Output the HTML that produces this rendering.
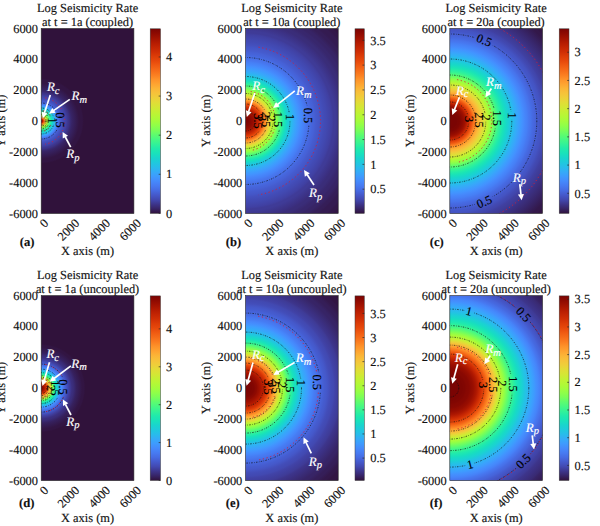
<!DOCTYPE html><html><head><meta charset="utf-8"><style>
html,body{margin:0;padding:0;background:#fff;width:600px;height:526px;overflow:hidden}
svg{display:block}
text{font-family:"Liberation Serif",serif;fill:#111;stroke:#111;stroke-width:0.15px;text-rendering:geometricPrecision}
.tt{font-size:12.4px}
.tk{font-size:12.4px}
.lb{font-size:12.4px}
.pl{font-size:12.6px;font-weight:bold}
.ct{stroke:#111;stroke-width:0.75;stroke-dasharray:1.4 1.4 0.6 1.4}
.cl{font-size:12.3px;fill:#000;stroke:#000}
.rl{font-size:13px;font-style:italic;fill:#fff;stroke:#fff}
.rs{font-size:10.5px}
.ar{stroke:#fff;stroke-width:1.7}
.cr{stroke:#d81e34;stroke-width:0.95;stroke-dasharray:1.2 2.6}
</style></head><body>
<svg width="600" height="526" viewBox="0 0 600 526">
<rect width="600" height="526" fill="#fff"/>
<g transform="translate(0.00,0.00)">
<text x="87.55" y="11.8" class="tt" text-anchor="middle">Log Seismicity Rate</text>
<text x="87.55" y="26.2" class="tt" text-anchor="middle">at t = 1a (coupled)</text>
<defs><radialGradient id="rga" gradientUnits="userSpaceOnUse" cx="41.20" cy="121.00" r="140.00"><stop offset="0.0000" stop-color="#7a0403"/><stop offset="0.0029" stop-color="#810602"/><stop offset="0.0071" stop-color="#980e01"/><stop offset="0.0120" stop-color="#b71d02"/><stop offset="0.0175" stop-color="#e7490c"/><stop offset="0.0233" stop-color="#fd8a26"/><stop offset="0.0296" stop-color="#f9bc39"/><stop offset="0.0362" stop-color="#dde037"/><stop offset="0.0430" stop-color="#affa37"/><stop offset="0.0501" stop-color="#84ff51"/><stop offset="0.0575" stop-color="#55fa76"/><stop offset="0.0651" stop-color="#32f298"/><stop offset="0.0728" stop-color="#1ce6b4"/><stop offset="0.0808" stop-color="#18d7ca"/><stop offset="0.0890" stop-color="#22c5e2"/><stop offset="0.0974" stop-color="#2fb2f4"/><stop offset="0.1059" stop-color="#3e9bfe"/><stop offset="0.1146" stop-color="#4685fa"/><stop offset="0.1234" stop-color="#4771e9"/><stop offset="0.1324" stop-color="#4661d6"/><stop offset="0.1415" stop-color="#4559cb"/><stop offset="0.1508" stop-color="#4451bf"/><stop offset="0.1602" stop-color="#424bb5"/><stop offset="0.1697" stop-color="#4146ac"/><stop offset="0.1794" stop-color="#4040a2"/><stop offset="0.1892" stop-color="#3e3891"/><stop offset="0.1990" stop-color="#3c3286"/><stop offset="0.2091" stop-color="#392a73"/><stop offset="0.2192" stop-color="#372466"/><stop offset="0.2294" stop-color="#36215f"/><stop offset="0.2397" stop-color="#351e58"/><stop offset="0.2502" stop-color="#341b51"/><stop offset="0.2607" stop-color="#33184a"/><stop offset="0.2714" stop-color="#321543"/><stop offset="0.2821" stop-color="#321543"/><stop offset="0.2929" stop-color="#321543"/><stop offset="0.3039" stop-color="#30123b"/><stop offset="0.3149" stop-color="#30123b"/><stop offset="0.3260" stop-color="#30123b"/><stop offset="0.3372" stop-color="#30123b"/><stop offset="0.3485" stop-color="#30123b"/><stop offset="0.3598" stop-color="#30123b"/><stop offset="0.3713" stop-color="#30123b"/><stop offset="0.3828" stop-color="#30123b"/><stop offset="0.3944" stop-color="#30123b"/><stop offset="0.4061" stop-color="#30123b"/><stop offset="0.4179" stop-color="#30123b"/><stop offset="0.4297" stop-color="#30123b"/><stop offset="0.4417" stop-color="#30123b"/><stop offset="0.4537" stop-color="#30123b"/><stop offset="0.4657" stop-color="#30123b"/><stop offset="0.4779" stop-color="#30123b"/><stop offset="0.4901" stop-color="#30123b"/><stop offset="0.5024" stop-color="#30123b"/><stop offset="0.5148" stop-color="#30123b"/><stop offset="0.5272" stop-color="#30123b"/><stop offset="0.5397" stop-color="#30123b"/><stop offset="0.5522" stop-color="#30123b"/><stop offset="0.5649" stop-color="#30123b"/><stop offset="0.5776" stop-color="#30123b"/><stop offset="0.5903" stop-color="#30123b"/><stop offset="0.6031" stop-color="#30123b"/><stop offset="0.6160" stop-color="#30123b"/><stop offset="0.6290" stop-color="#30123b"/><stop offset="0.6420" stop-color="#30123b"/><stop offset="0.6550" stop-color="#30123b"/><stop offset="0.6682" stop-color="#30123b"/><stop offset="0.6814" stop-color="#30123b"/><stop offset="0.6946" stop-color="#30123b"/><stop offset="0.7079" stop-color="#30123b"/><stop offset="0.7213" stop-color="#30123b"/><stop offset="0.7347" stop-color="#30123b"/><stop offset="0.7482" stop-color="#30123b"/><stop offset="0.7617" stop-color="#30123b"/><stop offset="0.7753" stop-color="#30123b"/><stop offset="0.7890" stop-color="#30123b"/><stop offset="0.8027" stop-color="#30123b"/><stop offset="0.8164" stop-color="#30123b"/><stop offset="0.8302" stop-color="#30123b"/><stop offset="0.8441" stop-color="#30123b"/><stop offset="0.8580" stop-color="#30123b"/><stop offset="0.8720" stop-color="#30123b"/><stop offset="0.8860" stop-color="#30123b"/><stop offset="0.9001" stop-color="#30123b"/><stop offset="0.9142" stop-color="#30123b"/><stop offset="0.9284" stop-color="#30123b"/><stop offset="0.9426" stop-color="#30123b"/><stop offset="0.9569" stop-color="#30123b"/><stop offset="0.9712" stop-color="#30123b"/><stop offset="0.9856" stop-color="#30123b"/><stop offset="1.0000" stop-color="#30123b"/></radialGradient>
<linearGradient id="cga" x1="0" y1="0" x2="0" y2="1"><stop offset="0.0000" stop-color="#7a0403"/><stop offset="0.0250" stop-color="#8e0a01"/><stop offset="0.0500" stop-color="#a11201"/><stop offset="0.0750" stop-color="#b41b01"/><stop offset="0.1000" stop-color="#c32503"/><stop offset="0.1250" stop-color="#d02f05"/><stop offset="0.1500" stop-color="#dd3d08"/><stop offset="0.1750" stop-color="#e7490c"/><stop offset="0.2000" stop-color="#f05b12"/><stop offset="0.2250" stop-color="#f66c19"/><stop offset="0.2500" stop-color="#fb7e21"/><stop offset="0.2750" stop-color="#fe932a"/><stop offset="0.3000" stop-color="#fea431"/><stop offset="0.3250" stop-color="#fbb637"/><stop offset="0.3500" stop-color="#f6c33a"/><stop offset="0.3750" stop-color="#eecf3a"/><stop offset="0.4000" stop-color="#e1dd37"/><stop offset="0.4250" stop-color="#d4e735"/><stop offset="0.4500" stop-color="#c3f134"/><stop offset="0.4750" stop-color="#b4f836"/><stop offset="0.5000" stop-color="#a4fc3c"/><stop offset="0.5250" stop-color="#8fff49"/><stop offset="0.5500" stop-color="#79fe59"/><stop offset="0.5750" stop-color="#5dfc6f"/><stop offset="0.6000" stop-color="#46f884"/><stop offset="0.6250" stop-color="#32f298"/><stop offset="0.6500" stop-color="#20eaac"/><stop offset="0.6750" stop-color="#19e2bb"/><stop offset="0.7000" stop-color="#19d5cd"/><stop offset="0.7250" stop-color="#1fc9dd"/><stop offset="0.7500" stop-color="#28bceb"/><stop offset="0.7750" stop-color="#35abf8"/><stop offset="0.8000" stop-color="#3e9bfe"/><stop offset="0.8250" stop-color="#458afc"/><stop offset="0.8500" stop-color="#477bf2"/><stop offset="0.8750" stop-color="#466be3"/><stop offset="0.9000" stop-color="#4559cb"/><stop offset="0.9250" stop-color="#4249b1"/><stop offset="0.9500" stop-color="#3d358b"/><stop offset="0.9750" stop-color="#372466"/><stop offset="1.0000" stop-color="#30123b"/></linearGradient>
<clipPath id="cpa"><rect x="41.20" y="28.50" width="92.70" height="185.00"/></clipPath></defs>
<rect x="41.20" y="28.50" width="92.70" height="185.00" fill="url(#rga)"/>
<defs><mask id="mka" maskUnits="userSpaceOnUse" x="0" y="0" width="220" height="270"><rect x="0" y="0" width="220" height="270" fill="#fff"/><rect x="-9.90" y="-4" width="19.80" height="8" fill="#000" transform="translate(59.80,120.00) rotate(90)"/><rect x="-4.30" y="-4" width="8.60" height="8" fill="#000" transform="translate(51.50,120.50) rotate(90)"/></mask></defs>
<g clip-path="url(#cpa)" fill="none"><g mask="url(#mka)">
<circle cx="41.20" cy="121.00" r="18.00" class="ct"/>
<circle cx="41.20" cy="121.00" r="13.00" class="ct"/>
<circle cx="41.20" cy="121.00" r="10.00" class="ct"/>
<circle cx="41.20" cy="121.00" r="8.00" class="ct"/>
<circle cx="41.20" cy="121.00" r="6.50" class="ct"/>
<circle cx="41.20" cy="121.00" r="5.00" class="ct"/>
<circle cx="41.20" cy="121.00" r="4.00" class="ct"/>
<path d="M45.28,97.86 A23.50,23.50 0 0 1 45.28,144.14" class="cr"/>
<path d="M43.02,110.66 A10.50,10.50 0 0 1 43.02,131.34" class="cr"/>
</g></g>
<rect x="41.20" y="28.50" width="92.70" height="185.00" fill="none" stroke="#262626" stroke-width="0.6"/>
<text x="38.00" y="32.50" class="tk" text-anchor="end">6000</text>
<text x="38.00" y="63.33" class="tk" text-anchor="end">4000</text>
<text x="38.00" y="94.17" class="tk" text-anchor="end">2000</text>
<text x="38.00" y="125.00" class="tk" text-anchor="end">0</text>
<text x="38.00" y="155.83" class="tk" text-anchor="end">-2000</text>
<text x="38.00" y="186.67" class="tk" text-anchor="end">-4000</text>
<text x="38.00" y="217.50" class="tk" text-anchor="end">-6000</text>
<text transform="translate(49.20,223.90) rotate(-45)" class="tk" text-anchor="end">0</text>
<text transform="translate(80.10,223.90) rotate(-45)" class="tk" text-anchor="end">2000</text>
<text transform="translate(111.00,223.90) rotate(-45)" class="tk" text-anchor="end">4000</text>
<text transform="translate(141.90,223.90) rotate(-45)" class="tk" text-anchor="end">6000</text>
<text x="87.55" y="254.9" class="lb" text-anchor="middle">X axis (m)</text>
<text transform="translate(5.40,121.00) rotate(-90)" class="lb" text-anchor="middle">Y axis (m)</text>
<rect x="150.20" y="28.80" width="10.30" height="184.60" fill="url(#cga)" stroke="#3a3a3a" stroke-width="0.5"/>
<line x1="158.70" x2="160.50" y1="213.40" y2="213.40" stroke="#262626" stroke-width="0.7"/>
<text x="166.00" y="217.60" class="tk">0</text>
<line x1="158.70" x2="160.50" y1="174.29" y2="174.29" stroke="#262626" stroke-width="0.7"/>
<text x="166.00" y="178.49" class="tk">1</text>
<line x1="158.70" x2="160.50" y1="135.18" y2="135.18" stroke="#262626" stroke-width="0.7"/>
<text x="166.00" y="139.38" class="tk">2</text>
<line x1="158.70" x2="160.50" y1="96.07" y2="96.07" stroke="#262626" stroke-width="0.7"/>
<text x="166.00" y="100.27" class="tk">3</text>
<line x1="158.70" x2="160.50" y1="56.96" y2="56.96" stroke="#262626" stroke-width="0.7"/>
<text x="166.00" y="61.16" class="tk">4</text>
<g transform="translate(-0.00,-0.00)">
<text transform="translate(59.80,120.00) rotate(90)" class="cl" text-anchor="middle" dy="3.9">0.5</text>
<text transform="translate(51.50,120.50) rotate(90)" class="cl" text-anchor="middle" dy="3.9">1</text>
<line x1="50.30" y1="94.90" x2="44.40" y2="113.07" class="ar"/><polygon points="42.70,118.30 41.70,111.67 47.41,113.52" fill="#fff"/>
<line x1="69.80" y1="99.40" x2="53.52" y2="110.67" class="ar"/><polygon points="49.00,113.80 52.23,107.92 55.64,112.85" fill="#fff"/>
<line x1="70.70" y1="147.20" x2="65.17" y2="136.76" class="ar"/><polygon points="62.60,131.90 68.06,135.80 62.76,138.61" fill="#fff"/>
<text x="19.80" y="245.60" class="pl">(a)</text>
<text x="46.90" y="91.20" class="rl">R<tspan class="rs" dy="2.8">c</tspan></text>
<text x="71.60" y="100.30" class="rl">R<tspan class="rs" dy="2.8">m</tspan></text>
<text x="66.20" y="158.40" class="rl">R<tspan class="rs" dy="2.8">p</tspan></text>
</g>
</g>
<g transform="translate(204.30,0.00)">
<text x="87.55" y="11.8" class="tt" text-anchor="middle">Log Seismicity Rate</text>
<text x="87.55" y="26.2" class="tt" text-anchor="middle">at t = 10a (coupled)</text>
<defs><radialGradient id="rgb" gradientUnits="userSpaceOnUse" cx="41.20" cy="121.00" r="140.00"><stop offset="0.0000" stop-color="#7a0403"/><stop offset="0.0029" stop-color="#7a0403"/><stop offset="0.0071" stop-color="#7a0403"/><stop offset="0.0120" stop-color="#7a0403"/><stop offset="0.0175" stop-color="#7e0502"/><stop offset="0.0233" stop-color="#810602"/><stop offset="0.0296" stop-color="#850702"/><stop offset="0.0362" stop-color="#880802"/><stop offset="0.0430" stop-color="#8e0a01"/><stop offset="0.0501" stop-color="#920b01"/><stop offset="0.0575" stop-color="#980e01"/><stop offset="0.0651" stop-color="#a11201"/><stop offset="0.0728" stop-color="#ac1701"/><stop offset="0.0808" stop-color="#b71d02"/><stop offset="0.0890" stop-color="#c32503"/><stop offset="0.0974" stop-color="#d02f05"/><stop offset="0.1059" stop-color="#dc3b07"/><stop offset="0.1146" stop-color="#e7490c"/><stop offset="0.1234" stop-color="#f15d13"/><stop offset="0.1324" stop-color="#f9751d"/><stop offset="0.1415" stop-color="#fe9029"/><stop offset="0.1508" stop-color="#fea933"/><stop offset="0.1602" stop-color="#f8be39"/><stop offset="0.1697" stop-color="#ecd13a"/><stop offset="0.1794" stop-color="#dbe236"/><stop offset="0.1892" stop-color="#c8ef34"/><stop offset="0.1990" stop-color="#b4f836"/><stop offset="0.2091" stop-color="#a1fd3d"/><stop offset="0.2192" stop-color="#8fff49"/><stop offset="0.2294" stop-color="#75fe5c"/><stop offset="0.2397" stop-color="#5dfc6f"/><stop offset="0.2502" stop-color="#46f884"/><stop offset="0.2607" stop-color="#32f298"/><stop offset="0.2714" stop-color="#22ebaa"/><stop offset="0.2821" stop-color="#19e3b9"/><stop offset="0.2929" stop-color="#18d9c8"/><stop offset="0.3039" stop-color="#1bd0d5"/><stop offset="0.3149" stop-color="#20c7df"/><stop offset="0.3260" stop-color="#27bee9"/><stop offset="0.3372" stop-color="#2eb4f2"/><stop offset="0.3485" stop-color="#35abf8"/><stop offset="0.3598" stop-color="#3aa3fc"/><stop offset="0.3713" stop-color="#3e9bfe"/><stop offset="0.3828" stop-color="#4294ff"/><stop offset="0.3944" stop-color="#458cfd"/><stop offset="0.4061" stop-color="#4685fa"/><stop offset="0.4179" stop-color="#4680f6"/><stop offset="0.4297" stop-color="#4778f0"/><stop offset="0.4417" stop-color="#4773eb"/><stop offset="0.4537" stop-color="#476ee6"/><stop offset="0.4657" stop-color="#4669e0"/><stop offset="0.4779" stop-color="#4664da"/><stop offset="0.4901" stop-color="#4661d6"/><stop offset="0.5024" stop-color="#455ccf"/><stop offset="0.5148" stop-color="#4559cb"/><stop offset="0.5272" stop-color="#4456c7"/><stop offset="0.5397" stop-color="#4451bf"/><stop offset="0.5522" stop-color="#434eba"/><stop offset="0.5649" stop-color="#424bb5"/><stop offset="0.5776" stop-color="#4249b1"/><stop offset="0.5903" stop-color="#4146ac"/><stop offset="0.6031" stop-color="#4143a7"/><stop offset="0.6160" stop-color="#4040a2"/><stop offset="0.6290" stop-color="#3f3b97"/><stop offset="0.6420" stop-color="#3f3b97"/><stop offset="0.6550" stop-color="#3e3891"/><stop offset="0.6682" stop-color="#3d358b"/><stop offset="0.6814" stop-color="#3c3286"/><stop offset="0.6946" stop-color="#3b2f80"/><stop offset="0.7079" stop-color="#3a2d79"/><stop offset="0.7213" stop-color="#3a2d79"/><stop offset="0.7347" stop-color="#392a73"/><stop offset="0.7482" stop-color="#38276d"/><stop offset="0.7617" stop-color="#38276d"/><stop offset="0.7753" stop-color="#372466"/><stop offset="0.7890" stop-color="#372466"/><stop offset="0.8027" stop-color="#36215f"/><stop offset="0.8164" stop-color="#351e58"/><stop offset="0.8302" stop-color="#351e58"/><stop offset="0.8441" stop-color="#341b51"/><stop offset="0.8580" stop-color="#341b51"/><stop offset="0.8720" stop-color="#341b51"/><stop offset="0.8860" stop-color="#33184a"/><stop offset="0.9001" stop-color="#33184a"/><stop offset="0.9142" stop-color="#321543"/><stop offset="0.9284" stop-color="#321543"/><stop offset="0.9426" stop-color="#321543"/><stop offset="0.9569" stop-color="#30123b"/><stop offset="0.9712" stop-color="#30123b"/><stop offset="0.9856" stop-color="#30123b"/><stop offset="1.0000" stop-color="#30123b"/></radialGradient>
<linearGradient id="cgb" x1="0" y1="0" x2="0" y2="1"><stop offset="0.0000" stop-color="#7a0403"/><stop offset="0.0250" stop-color="#8e0a01"/><stop offset="0.0500" stop-color="#a11201"/><stop offset="0.0750" stop-color="#b41b01"/><stop offset="0.1000" stop-color="#c32503"/><stop offset="0.1250" stop-color="#d02f05"/><stop offset="0.1500" stop-color="#dd3d08"/><stop offset="0.1750" stop-color="#e7490c"/><stop offset="0.2000" stop-color="#f05b12"/><stop offset="0.2250" stop-color="#f66c19"/><stop offset="0.2500" stop-color="#fb7e21"/><stop offset="0.2750" stop-color="#fe932a"/><stop offset="0.3000" stop-color="#fea431"/><stop offset="0.3250" stop-color="#fbb637"/><stop offset="0.3500" stop-color="#f6c33a"/><stop offset="0.3750" stop-color="#eecf3a"/><stop offset="0.4000" stop-color="#e1dd37"/><stop offset="0.4250" stop-color="#d4e735"/><stop offset="0.4500" stop-color="#c3f134"/><stop offset="0.4750" stop-color="#b4f836"/><stop offset="0.5000" stop-color="#a4fc3c"/><stop offset="0.5250" stop-color="#8fff49"/><stop offset="0.5500" stop-color="#79fe59"/><stop offset="0.5750" stop-color="#5dfc6f"/><stop offset="0.6000" stop-color="#46f884"/><stop offset="0.6250" stop-color="#32f298"/><stop offset="0.6500" stop-color="#20eaac"/><stop offset="0.6750" stop-color="#19e2bb"/><stop offset="0.7000" stop-color="#19d5cd"/><stop offset="0.7250" stop-color="#1fc9dd"/><stop offset="0.7500" stop-color="#28bceb"/><stop offset="0.7750" stop-color="#35abf8"/><stop offset="0.8000" stop-color="#3e9bfe"/><stop offset="0.8250" stop-color="#458afc"/><stop offset="0.8500" stop-color="#477bf2"/><stop offset="0.8750" stop-color="#466be3"/><stop offset="0.9000" stop-color="#4559cb"/><stop offset="0.9250" stop-color="#4249b1"/><stop offset="0.9500" stop-color="#3d358b"/><stop offset="0.9750" stop-color="#372466"/><stop offset="1.0000" stop-color="#30123b"/></linearGradient>
<clipPath id="cpb"><rect x="41.20" y="28.50" width="92.70" height="185.00"/></clipPath></defs>
<rect x="41.20" y="28.50" width="92.70" height="185.00" fill="url(#rgb)"/>
<defs><mask id="mkb" maskUnits="userSpaceOnUse" x="0" y="0" width="220" height="270"><rect x="0" y="0" width="220" height="270" fill="#fff"/><rect x="-9.90" y="-4" width="19.80" height="8" fill="#000" transform="translate(104.00,115.40) rotate(90)"/><rect x="-4.30" y="-4" width="8.60" height="8" fill="#000" transform="translate(85.70,117.20) rotate(90)"/><rect x="-9.90" y="-4" width="19.80" height="8" fill="#000" transform="translate(73.70,119.50) rotate(90)"/><rect x="-4.30" y="-4" width="8.60" height="8" fill="#000" transform="translate(66.90,118.50) rotate(90)"/><rect x="-9.90" y="-4" width="19.80" height="8" fill="#000" transform="translate(61.70,119.50) rotate(90)"/><rect x="-4.30" y="-4" width="8.60" height="8" fill="#000" transform="translate(57.70,118.00) rotate(90)"/><rect x="-9.90" y="-4" width="19.80" height="8" fill="#000" transform="translate(53.70,121.00) rotate(90)"/></mask></defs>
<g clip-path="url(#cpb)" fill="none"><g mask="url(#mkb)">
<circle cx="41.20" cy="121.00" r="63.50" class="ct"/>
<circle cx="41.20" cy="121.00" r="44.50" class="ct"/>
<circle cx="41.20" cy="121.00" r="35.00" class="ct"/>
<circle cx="41.20" cy="121.00" r="27.50" class="ct"/>
<circle cx="41.20" cy="121.00" r="22.00" class="ct"/>
<circle cx="41.20" cy="121.00" r="17.00" class="ct"/>
<circle cx="41.20" cy="121.00" r="10.00" class="ct"/>
<path d="M54.22,47.14 A75.00,75.00 0 0 1 54.22,194.86" class="cr"/>
<path d="M46.41,91.46 A30.00,30.00 0 0 1 46.41,150.54" class="cr"/>
</g></g>
<rect x="41.20" y="28.50" width="92.70" height="185.00" fill="none" stroke="#262626" stroke-width="0.6"/>
<text x="38.00" y="32.50" class="tk" text-anchor="end">6000</text>
<text x="38.00" y="63.33" class="tk" text-anchor="end">4000</text>
<text x="38.00" y="94.17" class="tk" text-anchor="end">2000</text>
<text x="38.00" y="125.00" class="tk" text-anchor="end">0</text>
<text x="38.00" y="155.83" class="tk" text-anchor="end">-2000</text>
<text x="38.00" y="186.67" class="tk" text-anchor="end">-4000</text>
<text x="38.00" y="217.50" class="tk" text-anchor="end">-6000</text>
<text transform="translate(49.20,223.90) rotate(-45)" class="tk" text-anchor="end">0</text>
<text transform="translate(80.10,223.90) rotate(-45)" class="tk" text-anchor="end">2000</text>
<text transform="translate(111.00,223.90) rotate(-45)" class="tk" text-anchor="end">4000</text>
<text transform="translate(141.90,223.90) rotate(-45)" class="tk" text-anchor="end">6000</text>
<text x="87.55" y="254.9" class="lb" text-anchor="middle">X axis (m)</text>
<text transform="translate(5.40,121.00) rotate(-90)" class="lb" text-anchor="middle">Y axis (m)</text>
<rect x="150.70" y="28.80" width="9.30" height="184.60" fill="url(#cgb)" stroke="#3a3a3a" stroke-width="0.5"/>
<line x1="158.20" x2="160.00" y1="189.18" y2="189.18" stroke="#262626" stroke-width="0.7"/>
<text x="166.00" y="193.38" class="tk">0.5</text>
<line x1="158.20" x2="160.00" y1="164.37" y2="164.37" stroke="#262626" stroke-width="0.7"/>
<text x="166.00" y="168.57" class="tk">1</text>
<line x1="158.20" x2="160.00" y1="139.56" y2="139.56" stroke="#262626" stroke-width="0.7"/>
<text x="166.00" y="143.76" class="tk">1.5</text>
<line x1="158.20" x2="160.00" y1="114.75" y2="114.75" stroke="#262626" stroke-width="0.7"/>
<text x="166.00" y="118.95" class="tk">2</text>
<line x1="158.20" x2="160.00" y1="89.94" y2="89.94" stroke="#262626" stroke-width="0.7"/>
<text x="166.00" y="94.14" class="tk">2.5</text>
<line x1="158.20" x2="160.00" y1="65.12" y2="65.12" stroke="#262626" stroke-width="0.7"/>
<text x="166.00" y="69.32" class="tk">3</text>
<line x1="158.20" x2="160.00" y1="40.31" y2="40.31" stroke="#262626" stroke-width="0.7"/>
<text x="166.00" y="44.51" class="tk">3.5</text>
<g transform="translate(-204.30,-0.00)">
<text transform="translate(308.30,115.40) rotate(90)" class="cl" text-anchor="middle" dy="3.9">0.5</text>
<text transform="translate(290.00,117.20) rotate(90)" class="cl" text-anchor="middle" dy="3.9">1</text>
<text transform="translate(278.00,119.50) rotate(90)" class="cl" text-anchor="middle" dy="3.9">1.5</text>
<text transform="translate(271.20,118.50) rotate(90)" class="cl" text-anchor="middle" dy="3.9">2</text>
<text transform="translate(266.00,119.50) rotate(90)" class="cl" text-anchor="middle" dy="3.9">2.5</text>
<text transform="translate(262.00,118.00) rotate(90)" class="cl" text-anchor="middle" dy="3.9">3</text>
<text transform="translate(258.00,121.00) rotate(90)" class="cl" text-anchor="middle" dy="3.9">3.5</text>
<line x1="254.80" y1="93.10" x2="248.55" y2="111.78" class="ar"/><polygon points="246.80,117.00 245.86,110.36 251.55,112.26" fill="#fff"/>
<line x1="294.80" y1="90.80" x2="277.41" y2="104.58" class="ar"/><polygon points="273.10,108.00 275.94,101.92 279.67,106.62" fill="#fff"/>
<line x1="314.00" y1="185.00" x2="307.05" y2="174.58" class="ar"/><polygon points="304.00,170.00 309.82,173.33 304.83,176.66" fill="#fff"/>
<text x="225.80" y="245.60" class="pl">(b)</text>
<text x="252.20" y="89.70" class="rl">R<tspan class="rs" dy="2.8">c</tspan></text>
<text x="296.00" y="95.00" class="rl">R<tspan class="rs" dy="2.8">m</tspan></text>
<text x="309.00" y="197.00" class="rl">R<tspan class="rs" dy="2.8">p</tspan></text>
</g>
</g>
<g transform="translate(408.60,0.00)">
<text x="87.55" y="11.8" class="tt" text-anchor="middle">Log Seismicity Rate</text>
<text x="87.55" y="26.2" class="tt" text-anchor="middle">at t = 20a (coupled)</text>
<defs><radialGradient id="rgc" gradientUnits="userSpaceOnUse" cx="41.20" cy="121.00" r="140.00"><stop offset="0.0000" stop-color="#7a0403"/><stop offset="0.0029" stop-color="#7a0403"/><stop offset="0.0071" stop-color="#7a0403"/><stop offset="0.0120" stop-color="#7a0403"/><stop offset="0.0175" stop-color="#7a0403"/><stop offset="0.0233" stop-color="#7a0403"/><stop offset="0.0296" stop-color="#7a0403"/><stop offset="0.0362" stop-color="#7a0403"/><stop offset="0.0430" stop-color="#7a0403"/><stop offset="0.0501" stop-color="#7a0403"/><stop offset="0.0575" stop-color="#7e0502"/><stop offset="0.0651" stop-color="#7e0502"/><stop offset="0.0728" stop-color="#810602"/><stop offset="0.0808" stop-color="#880802"/><stop offset="0.0890" stop-color="#8e0a01"/><stop offset="0.0974" stop-color="#950d01"/><stop offset="0.1059" stop-color="#9e1001"/><stop offset="0.1146" stop-color="#ac1701"/><stop offset="0.1234" stop-color="#be2102"/><stop offset="0.1324" stop-color="#ce2d04"/><stop offset="0.1415" stop-color="#da3907"/><stop offset="0.1508" stop-color="#e7490c"/><stop offset="0.1602" stop-color="#f05b12"/><stop offset="0.1697" stop-color="#f8721c"/><stop offset="0.1794" stop-color="#fd8a26"/><stop offset="0.1892" stop-color="#fe9b2d"/><stop offset="0.1990" stop-color="#fdac34"/><stop offset="0.2091" stop-color="#faba39"/><stop offset="0.2192" stop-color="#f5c53a"/><stop offset="0.2294" stop-color="#ecd13a"/><stop offset="0.2397" stop-color="#e3db38"/><stop offset="0.2502" stop-color="#d9e436"/><stop offset="0.2607" stop-color="#cbed34"/><stop offset="0.2714" stop-color="#bcf534"/><stop offset="0.2821" stop-color="#a9fb39"/><stop offset="0.2929" stop-color="#99fe42"/><stop offset="0.3039" stop-color="#84ff51"/><stop offset="0.3149" stop-color="#6dfe62"/><stop offset="0.3260" stop-color="#59fb73"/><stop offset="0.3372" stop-color="#46f884"/><stop offset="0.3485" stop-color="#35f394"/><stop offset="0.3598" stop-color="#2aefa1"/><stop offset="0.3713" stop-color="#20eaac"/><stop offset="0.3828" stop-color="#1ae4b6"/><stop offset="0.3944" stop-color="#18dec0"/><stop offset="0.4061" stop-color="#18d7ca"/><stop offset="0.4179" stop-color="#1ad2d2"/><stop offset="0.4297" stop-color="#1fc9dd"/><stop offset="0.4417" stop-color="#23c3e4"/><stop offset="0.4537" stop-color="#28bceb"/><stop offset="0.4657" stop-color="#2fb2f4"/><stop offset="0.4779" stop-color="#35abf8"/><stop offset="0.4901" stop-color="#3aa3fc"/><stop offset="0.5024" stop-color="#3e9bfe"/><stop offset="0.5148" stop-color="#4294ff"/><stop offset="0.5272" stop-color="#458cfd"/><stop offset="0.5397" stop-color="#4685fa"/><stop offset="0.5522" stop-color="#4680f6"/><stop offset="0.5649" stop-color="#4778f0"/><stop offset="0.5776" stop-color="#4773eb"/><stop offset="0.5903" stop-color="#466be3"/><stop offset="0.6031" stop-color="#4666dd"/><stop offset="0.6160" stop-color="#4661d6"/><stop offset="0.6290" stop-color="#455ccf"/><stop offset="0.6420" stop-color="#4456c7"/><stop offset="0.6550" stop-color="#4454c3"/><stop offset="0.6682" stop-color="#434eba"/><stop offset="0.6814" stop-color="#4249b1"/><stop offset="0.6946" stop-color="#4146ac"/><stop offset="0.7079" stop-color="#4040a2"/><stop offset="0.7213" stop-color="#3f3e9c"/><stop offset="0.7347" stop-color="#3f3b97"/><stop offset="0.7482" stop-color="#3e3891"/><stop offset="0.7617" stop-color="#3c3286"/><stop offset="0.7753" stop-color="#3b2f80"/><stop offset="0.7890" stop-color="#3a2d79"/><stop offset="0.8027" stop-color="#392a73"/><stop offset="0.8164" stop-color="#38276d"/><stop offset="0.8302" stop-color="#372466"/><stop offset="0.8441" stop-color="#36215f"/><stop offset="0.8580" stop-color="#351e58"/><stop offset="0.8720" stop-color="#341b51"/><stop offset="0.8860" stop-color="#33184a"/><stop offset="0.9001" stop-color="#33184a"/><stop offset="0.9142" stop-color="#321543"/><stop offset="0.9284" stop-color="#321543"/><stop offset="0.9426" stop-color="#30123b"/><stop offset="0.9569" stop-color="#30123b"/><stop offset="0.9712" stop-color="#30123b"/><stop offset="0.9856" stop-color="#30123b"/><stop offset="1.0000" stop-color="#30123b"/></radialGradient>
<linearGradient id="cgc" x1="0" y1="0" x2="0" y2="1"><stop offset="0.0000" stop-color="#7a0403"/><stop offset="0.0250" stop-color="#8e0a01"/><stop offset="0.0500" stop-color="#a11201"/><stop offset="0.0750" stop-color="#b41b01"/><stop offset="0.1000" stop-color="#c32503"/><stop offset="0.1250" stop-color="#d02f05"/><stop offset="0.1500" stop-color="#dd3d08"/><stop offset="0.1750" stop-color="#e7490c"/><stop offset="0.2000" stop-color="#f05b12"/><stop offset="0.2250" stop-color="#f66c19"/><stop offset="0.2500" stop-color="#fb7e21"/><stop offset="0.2750" stop-color="#fe932a"/><stop offset="0.3000" stop-color="#fea431"/><stop offset="0.3250" stop-color="#fbb637"/><stop offset="0.3500" stop-color="#f6c33a"/><stop offset="0.3750" stop-color="#eecf3a"/><stop offset="0.4000" stop-color="#e1dd37"/><stop offset="0.4250" stop-color="#d4e735"/><stop offset="0.4500" stop-color="#c3f134"/><stop offset="0.4750" stop-color="#b4f836"/><stop offset="0.5000" stop-color="#a4fc3c"/><stop offset="0.5250" stop-color="#8fff49"/><stop offset="0.5500" stop-color="#79fe59"/><stop offset="0.5750" stop-color="#5dfc6f"/><stop offset="0.6000" stop-color="#46f884"/><stop offset="0.6250" stop-color="#32f298"/><stop offset="0.6500" stop-color="#20eaac"/><stop offset="0.6750" stop-color="#19e2bb"/><stop offset="0.7000" stop-color="#19d5cd"/><stop offset="0.7250" stop-color="#1fc9dd"/><stop offset="0.7500" stop-color="#28bceb"/><stop offset="0.7750" stop-color="#35abf8"/><stop offset="0.8000" stop-color="#3e9bfe"/><stop offset="0.8250" stop-color="#458afc"/><stop offset="0.8500" stop-color="#477bf2"/><stop offset="0.8750" stop-color="#466be3"/><stop offset="0.9000" stop-color="#4559cb"/><stop offset="0.9250" stop-color="#4249b1"/><stop offset="0.9500" stop-color="#3d358b"/><stop offset="0.9750" stop-color="#372466"/><stop offset="1.0000" stop-color="#30123b"/></linearGradient>
<clipPath id="cpc"><rect x="41.20" y="28.50" width="92.70" height="185.00"/></clipPath></defs>
<rect x="41.20" y="28.50" width="92.70" height="185.00" fill="url(#rgc)"/>
<defs><mask id="mkc" maskUnits="userSpaceOnUse" x="0" y="0" width="220" height="270"><rect x="0" y="0" width="220" height="270" fill="#fff"/><rect x="-4.30" y="-4" width="8.60" height="8" fill="#000" transform="translate(103.40,115.50) rotate(90)"/><rect x="-9.90" y="-4" width="19.80" height="8" fill="#000" transform="translate(88.10,118.30) rotate(90)"/><rect x="-4.30" y="-4" width="8.60" height="8" fill="#000" transform="translate(77.70,117.50) rotate(90)"/><rect x="-9.90" y="-4" width="19.80" height="8" fill="#000" transform="translate(70.40,120.00) rotate(90)"/><rect x="-4.30" y="-4" width="8.60" height="8" fill="#000" transform="translate(60.10,119.00) rotate(90)"/><rect x="-9.90" y="-4" width="19.80" height="8" fill="#000" transform="translate(75.40,40.40) rotate(23)"/><rect x="-9.90" y="-4" width="19.80" height="8" fill="#000" transform="translate(75.70,202.00) rotate(-23)"/></mask></defs>
<g clip-path="url(#cpc)" fill="none"><g mask="url(#mkc)">
<circle cx="41.20" cy="121.00" r="87.00" class="ct"/>
<circle cx="41.20" cy="121.00" r="62.00" class="ct"/>
<circle cx="41.20" cy="121.00" r="46.00" class="ct"/>
<circle cx="41.20" cy="121.00" r="36.00" class="ct"/>
<circle cx="41.20" cy="121.00" r="26.00" class="ct"/>
<circle cx="41.20" cy="121.00" r="19.00" class="ct"/>
<path d="M59.43,17.60 A105.00,105.00 0 0 1 59.43,224.40" class="cr"/>
<path d="M48.49,79.64 A42.00,42.00 0 0 1 48.49,162.36" class="cr"/>
</g></g>
<rect x="41.20" y="28.50" width="92.70" height="185.00" fill="none" stroke="#262626" stroke-width="0.6"/>
<text x="38.00" y="32.50" class="tk" text-anchor="end">6000</text>
<text x="38.00" y="63.33" class="tk" text-anchor="end">4000</text>
<text x="38.00" y="94.17" class="tk" text-anchor="end">2000</text>
<text x="38.00" y="125.00" class="tk" text-anchor="end">0</text>
<text x="38.00" y="155.83" class="tk" text-anchor="end">-2000</text>
<text x="38.00" y="186.67" class="tk" text-anchor="end">-4000</text>
<text x="38.00" y="217.50" class="tk" text-anchor="end">-6000</text>
<text transform="translate(49.20,223.90) rotate(-45)" class="tk" text-anchor="end">0</text>
<text transform="translate(80.10,223.90) rotate(-45)" class="tk" text-anchor="end">2000</text>
<text transform="translate(111.00,223.90) rotate(-45)" class="tk" text-anchor="end">4000</text>
<text transform="translate(141.90,223.90) rotate(-45)" class="tk" text-anchor="end">6000</text>
<text x="87.55" y="254.9" class="lb" text-anchor="middle">X axis (m)</text>
<text transform="translate(5.40,121.00) rotate(-90)" class="lb" text-anchor="middle">Y axis (m)</text>
<rect x="150.60" y="28.80" width="9.80" height="184.60" fill="url(#cgc)" stroke="#3a3a3a" stroke-width="0.5"/>
<line x1="158.60" x2="160.40" y1="193.31" y2="193.31" stroke="#262626" stroke-width="0.7"/>
<text x="166.00" y="197.51" class="tk">0.5</text>
<line x1="158.60" x2="160.40" y1="165.09" y2="165.09" stroke="#262626" stroke-width="0.7"/>
<text x="166.00" y="169.29" class="tk">1</text>
<line x1="158.60" x2="160.40" y1="136.87" y2="136.87" stroke="#262626" stroke-width="0.7"/>
<text x="166.00" y="141.07" class="tk">1.5</text>
<line x1="158.60" x2="160.40" y1="108.66" y2="108.66" stroke="#262626" stroke-width="0.7"/>
<text x="166.00" y="112.86" class="tk">2</text>
<line x1="158.60" x2="160.40" y1="80.44" y2="80.44" stroke="#262626" stroke-width="0.7"/>
<text x="166.00" y="84.64" class="tk">2.5</text>
<line x1="158.60" x2="160.40" y1="52.22" y2="52.22" stroke="#262626" stroke-width="0.7"/>
<text x="166.00" y="56.42" class="tk">3</text>
<g transform="translate(-408.60,-0.00)">
<text transform="translate(512.00,115.50) rotate(90)" class="cl" text-anchor="middle" dy="3.9">1</text>
<text transform="translate(496.70,118.30) rotate(90)" class="cl" text-anchor="middle" dy="3.9">1.5</text>
<text transform="translate(486.30,117.50) rotate(90)" class="cl" text-anchor="middle" dy="3.9">2</text>
<text transform="translate(479.00,120.00) rotate(90)" class="cl" text-anchor="middle" dy="3.9">2.5</text>
<text transform="translate(468.70,119.00) rotate(90)" class="cl" text-anchor="middle" dy="3.9">3</text>
<text transform="translate(484.00,40.40) rotate(23)" class="cl" text-anchor="middle" dy="3.9">0.5</text>
<text transform="translate(484.30,202.00) rotate(-23)" class="cl" text-anchor="middle" dy="3.9">0.5</text>
<line x1="459.40" y1="97.20" x2="454.34" y2="109.89" class="ar"/><polygon points="452.30,115.00 451.74,108.32 457.31,110.54" fill="#fff"/>
<line x1="491.40" y1="88.40" x2="488.50" y2="92.66" class="ar"/><polygon points="485.40,97.20 486.30,90.55 491.26,93.93" fill="#fff"/>
<line x1="519.80" y1="184.20" x2="520.99" y2="194.73" class="ar"/><polygon points="521.60,200.20 517.95,194.57 523.91,193.90" fill="#fff"/>
<text x="429.80" y="245.60" class="pl">(c)</text>
<text x="455.90" y="94.50" class="rl">R<tspan class="rs" dy="2.8">c</tspan></text>
<text x="486.00" y="86.00" class="rl">R<tspan class="rs" dy="2.8">m</tspan></text>
<text x="512.70" y="181.50" class="rl">R<tspan class="rs" dy="2.8">p</tspan></text>
</g>
</g>
<g transform="translate(0.00,267.10)">
<text x="87.55" y="11.8" class="tt" text-anchor="middle">Log Seismicity Rate</text>
<text x="87.55" y="26.2" class="tt" text-anchor="middle">at t = 1a (uncoupled)</text>
<defs><radialGradient id="rgd" gradientUnits="userSpaceOnUse" cx="41.20" cy="121.00" r="140.00"><stop offset="0.0000" stop-color="#7a0403"/><stop offset="0.0029" stop-color="#7a0403"/><stop offset="0.0071" stop-color="#810602"/><stop offset="0.0120" stop-color="#8b0902"/><stop offset="0.0175" stop-color="#980e01"/><stop offset="0.0233" stop-color="#a91601"/><stop offset="0.0296" stop-color="#bc2002"/><stop offset="0.0362" stop-color="#d02f05"/><stop offset="0.0430" stop-color="#e5470b"/><stop offset="0.0501" stop-color="#fa7b1f"/><stop offset="0.0575" stop-color="#fdae35"/><stop offset="0.0651" stop-color="#ecd13a"/><stop offset="0.0728" stop-color="#c8ef34"/><stop offset="0.0808" stop-color="#99fe42"/><stop offset="0.0890" stop-color="#55fa76"/><stop offset="0.0974" stop-color="#2cf09e"/><stop offset="0.1059" stop-color="#19e3b9"/><stop offset="0.1146" stop-color="#1ad2d2"/><stop offset="0.1234" stop-color="#28bceb"/><stop offset="0.1324" stop-color="#38a5fb"/><stop offset="0.1415" stop-color="#4391fe"/><stop offset="0.1508" stop-color="#4680f6"/><stop offset="0.1602" stop-color="#4771e9"/><stop offset="0.1697" stop-color="#4661d6"/><stop offset="0.1794" stop-color="#4456c7"/><stop offset="0.1892" stop-color="#424bb5"/><stop offset="0.1990" stop-color="#4040a2"/><stop offset="0.2091" stop-color="#3e3891"/><stop offset="0.2192" stop-color="#3b2f80"/><stop offset="0.2294" stop-color="#3a2d79"/><stop offset="0.2397" stop-color="#38276d"/><stop offset="0.2502" stop-color="#36215f"/><stop offset="0.2607" stop-color="#351e58"/><stop offset="0.2714" stop-color="#341b51"/><stop offset="0.2821" stop-color="#33184a"/><stop offset="0.2929" stop-color="#321543"/><stop offset="0.3039" stop-color="#321543"/><stop offset="0.3149" stop-color="#30123b"/><stop offset="0.3260" stop-color="#30123b"/><stop offset="0.3372" stop-color="#30123b"/><stop offset="0.3485" stop-color="#30123b"/><stop offset="0.3598" stop-color="#30123b"/><stop offset="0.3713" stop-color="#30123b"/><stop offset="0.3828" stop-color="#30123b"/><stop offset="0.3944" stop-color="#30123b"/><stop offset="0.4061" stop-color="#30123b"/><stop offset="0.4179" stop-color="#30123b"/><stop offset="0.4297" stop-color="#30123b"/><stop offset="0.4417" stop-color="#30123b"/><stop offset="0.4537" stop-color="#30123b"/><stop offset="0.4657" stop-color="#30123b"/><stop offset="0.4779" stop-color="#30123b"/><stop offset="0.4901" stop-color="#30123b"/><stop offset="0.5024" stop-color="#30123b"/><stop offset="0.5148" stop-color="#30123b"/><stop offset="0.5272" stop-color="#30123b"/><stop offset="0.5397" stop-color="#30123b"/><stop offset="0.5522" stop-color="#30123b"/><stop offset="0.5649" stop-color="#30123b"/><stop offset="0.5776" stop-color="#30123b"/><stop offset="0.5903" stop-color="#30123b"/><stop offset="0.6031" stop-color="#30123b"/><stop offset="0.6160" stop-color="#30123b"/><stop offset="0.6290" stop-color="#30123b"/><stop offset="0.6420" stop-color="#30123b"/><stop offset="0.6550" stop-color="#30123b"/><stop offset="0.6682" stop-color="#30123b"/><stop offset="0.6814" stop-color="#30123b"/><stop offset="0.6946" stop-color="#30123b"/><stop offset="0.7079" stop-color="#30123b"/><stop offset="0.7213" stop-color="#30123b"/><stop offset="0.7347" stop-color="#30123b"/><stop offset="0.7482" stop-color="#30123b"/><stop offset="0.7617" stop-color="#30123b"/><stop offset="0.7753" stop-color="#30123b"/><stop offset="0.7890" stop-color="#30123b"/><stop offset="0.8027" stop-color="#30123b"/><stop offset="0.8164" stop-color="#30123b"/><stop offset="0.8302" stop-color="#30123b"/><stop offset="0.8441" stop-color="#30123b"/><stop offset="0.8580" stop-color="#30123b"/><stop offset="0.8720" stop-color="#30123b"/><stop offset="0.8860" stop-color="#30123b"/><stop offset="0.9001" stop-color="#30123b"/><stop offset="0.9142" stop-color="#30123b"/><stop offset="0.9284" stop-color="#30123b"/><stop offset="0.9426" stop-color="#30123b"/><stop offset="0.9569" stop-color="#30123b"/><stop offset="0.9712" stop-color="#30123b"/><stop offset="0.9856" stop-color="#30123b"/><stop offset="1.0000" stop-color="#30123b"/></radialGradient>
<linearGradient id="cgd" x1="0" y1="0" x2="0" y2="1"><stop offset="0.0000" stop-color="#7a0403"/><stop offset="0.0250" stop-color="#8e0a01"/><stop offset="0.0500" stop-color="#a11201"/><stop offset="0.0750" stop-color="#b41b01"/><stop offset="0.1000" stop-color="#c32503"/><stop offset="0.1250" stop-color="#d02f05"/><stop offset="0.1500" stop-color="#dd3d08"/><stop offset="0.1750" stop-color="#e7490c"/><stop offset="0.2000" stop-color="#f05b12"/><stop offset="0.2250" stop-color="#f66c19"/><stop offset="0.2500" stop-color="#fb7e21"/><stop offset="0.2750" stop-color="#fe932a"/><stop offset="0.3000" stop-color="#fea431"/><stop offset="0.3250" stop-color="#fbb637"/><stop offset="0.3500" stop-color="#f6c33a"/><stop offset="0.3750" stop-color="#eecf3a"/><stop offset="0.4000" stop-color="#e1dd37"/><stop offset="0.4250" stop-color="#d4e735"/><stop offset="0.4500" stop-color="#c3f134"/><stop offset="0.4750" stop-color="#b4f836"/><stop offset="0.5000" stop-color="#a4fc3c"/><stop offset="0.5250" stop-color="#8fff49"/><stop offset="0.5500" stop-color="#79fe59"/><stop offset="0.5750" stop-color="#5dfc6f"/><stop offset="0.6000" stop-color="#46f884"/><stop offset="0.6250" stop-color="#32f298"/><stop offset="0.6500" stop-color="#20eaac"/><stop offset="0.6750" stop-color="#19e2bb"/><stop offset="0.7000" stop-color="#19d5cd"/><stop offset="0.7250" stop-color="#1fc9dd"/><stop offset="0.7500" stop-color="#28bceb"/><stop offset="0.7750" stop-color="#35abf8"/><stop offset="0.8000" stop-color="#3e9bfe"/><stop offset="0.8250" stop-color="#458afc"/><stop offset="0.8500" stop-color="#477bf2"/><stop offset="0.8750" stop-color="#466be3"/><stop offset="0.9000" stop-color="#4559cb"/><stop offset="0.9250" stop-color="#4249b1"/><stop offset="0.9500" stop-color="#3d358b"/><stop offset="0.9750" stop-color="#372466"/><stop offset="1.0000" stop-color="#30123b"/></linearGradient>
<clipPath id="cpd"><rect x="41.20" y="28.50" width="92.70" height="185.00"/></clipPath></defs>
<rect x="41.20" y="28.50" width="92.70" height="185.00" fill="url(#rgd)"/>
<defs><mask id="mkd" maskUnits="userSpaceOnUse" x="0" y="0" width="220" height="270"><rect x="0" y="0" width="220" height="270" fill="#fff"/><rect x="-9.90" y="-4" width="19.80" height="8" fill="#000" transform="translate(63.30,119.90) rotate(90)"/><rect x="-9.90" y="-4" width="19.80" height="8" fill="#000" transform="translate(55.00,120.90) rotate(90)"/><rect x="-4.30" y="-4" width="8.60" height="8" fill="#000" transform="translate(51.00,120.90) rotate(90)"/></mask></defs>
<g clip-path="url(#cpd)" fill="none"><g mask="url(#mkd)">
<circle cx="41.20" cy="121.00" r="24.00" class="ct"/>
<circle cx="41.20" cy="121.00" r="19.00" class="ct"/>
<circle cx="41.20" cy="121.00" r="15.50" class="ct"/>
<circle cx="41.20" cy="121.00" r="12.60" class="ct"/>
<circle cx="41.20" cy="121.00" r="10.90" class="ct"/>
<circle cx="41.20" cy="121.00" r="9.20" class="ct"/>
<circle cx="41.20" cy="121.00" r="7.50" class="ct"/>
<circle cx="41.20" cy="121.00" r="5.50" class="ct"/>
<path d="M45.37,97.36 A24.00,24.00 0 0 1 45.37,144.64" class="cr"/>
<path d="M42.94,111.15 A10.00,10.00 0 0 1 42.94,130.85" class="cr"/>
</g></g>
<rect x="41.20" y="28.50" width="92.70" height="185.00" fill="none" stroke="#262626" stroke-width="0.6"/>
<text x="38.00" y="32.50" class="tk" text-anchor="end">6000</text>
<text x="38.00" y="63.33" class="tk" text-anchor="end">4000</text>
<text x="38.00" y="94.17" class="tk" text-anchor="end">2000</text>
<text x="38.00" y="125.00" class="tk" text-anchor="end">0</text>
<text x="38.00" y="155.83" class="tk" text-anchor="end">-2000</text>
<text x="38.00" y="186.67" class="tk" text-anchor="end">-4000</text>
<text x="38.00" y="217.50" class="tk" text-anchor="end">-6000</text>
<text transform="translate(49.20,223.90) rotate(-45)" class="tk" text-anchor="end">0</text>
<text transform="translate(80.10,223.90) rotate(-45)" class="tk" text-anchor="end">2000</text>
<text transform="translate(111.00,223.90) rotate(-45)" class="tk" text-anchor="end">4000</text>
<text transform="translate(141.90,223.90) rotate(-45)" class="tk" text-anchor="end">6000</text>
<text x="87.55" y="254.9" class="lb" text-anchor="middle">X axis (m)</text>
<text transform="translate(5.40,121.00) rotate(-90)" class="lb" text-anchor="middle">Y axis (m)</text>
<rect x="150.20" y="28.80" width="10.30" height="184.60" fill="url(#cgd)" stroke="#3a3a3a" stroke-width="0.5"/>
<line x1="158.70" x2="160.50" y1="213.40" y2="213.40" stroke="#262626" stroke-width="0.7"/>
<text x="166.00" y="217.60" class="tk">0</text>
<line x1="158.70" x2="160.50" y1="175.49" y2="175.49" stroke="#262626" stroke-width="0.7"/>
<text x="166.00" y="179.69" class="tk">1</text>
<line x1="158.70" x2="160.50" y1="137.59" y2="137.59" stroke="#262626" stroke-width="0.7"/>
<text x="166.00" y="141.79" class="tk">2</text>
<line x1="158.70" x2="160.50" y1="99.68" y2="99.68" stroke="#262626" stroke-width="0.7"/>
<text x="166.00" y="103.88" class="tk">3</text>
<line x1="158.70" x2="160.50" y1="61.78" y2="61.78" stroke="#262626" stroke-width="0.7"/>
<text x="166.00" y="65.98" class="tk">4</text>
<g transform="translate(-0.00,-267.10)">
<text transform="translate(63.30,387.00) rotate(90)" class="cl" text-anchor="middle" dy="3.9">0.5</text>
<text transform="translate(55.00,388.00) rotate(90)" class="cl" text-anchor="middle" dy="3.9">1.5</text>
<text transform="translate(51.00,388.00) rotate(90)" class="cl" text-anchor="middle" dy="3.9">2</text>
<line x1="49.50" y1="362.20" x2="44.05" y2="380.72" class="ar"/><polygon points="42.50,386.00 41.31,379.40 47.07,381.09" fill="#fff"/>
<line x1="70.90" y1="365.90" x2="54.01" y2="378.51" class="ar"/><polygon points="49.60,381.80 52.61,375.81 56.20,380.61" fill="#fff"/>
<line x1="71.00" y1="415.00" x2="65.43" y2="404.28" class="ar"/><polygon points="62.90,399.40 68.33,403.34 63.00,406.11" fill="#fff"/>
<text x="19.10" y="506.85" class="pl">(d)</text>
<text x="46.40" y="358.40" class="rl">R<tspan class="rs" dy="2.8">c</tspan></text>
<text x="71.20" y="367.60" class="rl">R<tspan class="rs" dy="2.8">m</tspan></text>
<text x="66.20" y="425.60" class="rl">R<tspan class="rs" dy="2.8">p</tspan></text>
</g>
</g>
<g transform="translate(204.30,267.10)">
<text x="87.55" y="11.8" class="tt" text-anchor="middle">Log Seismicity Rate</text>
<text x="87.55" y="26.2" class="tt" text-anchor="middle">at t = 10a (uncoupled)</text>
<defs><radialGradient id="rge" gradientUnits="userSpaceOnUse" cx="41.20" cy="121.00" r="140.00"><stop offset="0.0000" stop-color="#7a0403"/><stop offset="0.0029" stop-color="#7a0403"/><stop offset="0.0071" stop-color="#7a0403"/><stop offset="0.0120" stop-color="#7a0403"/><stop offset="0.0175" stop-color="#7a0403"/><stop offset="0.0233" stop-color="#7a0403"/><stop offset="0.0296" stop-color="#7a0403"/><stop offset="0.0362" stop-color="#7e0502"/><stop offset="0.0430" stop-color="#7e0502"/><stop offset="0.0501" stop-color="#810602"/><stop offset="0.0575" stop-color="#810602"/><stop offset="0.0651" stop-color="#850702"/><stop offset="0.0728" stop-color="#8b0902"/><stop offset="0.0808" stop-color="#8e0a01"/><stop offset="0.0890" stop-color="#980e01"/><stop offset="0.0974" stop-color="#9e1001"/><stop offset="0.1059" stop-color="#a71401"/><stop offset="0.1146" stop-color="#af1801"/><stop offset="0.1234" stop-color="#b91e02"/><stop offset="0.1324" stop-color="#c52603"/><stop offset="0.1415" stop-color="#ce2d04"/><stop offset="0.1508" stop-color="#d83706"/><stop offset="0.1602" stop-color="#e4450a"/><stop offset="0.1697" stop-color="#ef5811"/><stop offset="0.1794" stop-color="#f76f1a"/><stop offset="0.1892" stop-color="#fc8725"/><stop offset="0.1990" stop-color="#fe9b2d"/><stop offset="0.2091" stop-color="#fcb136"/><stop offset="0.2192" stop-color="#f6c33a"/><stop offset="0.2294" stop-color="#ebd339"/><stop offset="0.2397" stop-color="#dbe236"/><stop offset="0.2502" stop-color="#c6f034"/><stop offset="0.2607" stop-color="#b1f936"/><stop offset="0.2714" stop-color="#9ffd3f"/><stop offset="0.2821" stop-color="#88ff4e"/><stop offset="0.2929" stop-color="#71fe5f"/><stop offset="0.3039" stop-color="#59fb73"/><stop offset="0.3149" stop-color="#43f787"/><stop offset="0.3260" stop-color="#2ff19b"/><stop offset="0.3372" stop-color="#22ebaa"/><stop offset="0.3485" stop-color="#19e3b9"/><stop offset="0.3598" stop-color="#18dbc5"/><stop offset="0.3713" stop-color="#1ad4d0"/><stop offset="0.3828" stop-color="#1fc9dd"/><stop offset="0.3944" stop-color="#25c0e7"/><stop offset="0.4061" stop-color="#2cb7f0"/><stop offset="0.4179" stop-color="#33adf7"/><stop offset="0.4297" stop-color="#38a5fb"/><stop offset="0.4417" stop-color="#3d9efe"/><stop offset="0.4537" stop-color="#4294ff"/><stop offset="0.4657" stop-color="#458cfd"/><stop offset="0.4779" stop-color="#4685fa"/><stop offset="0.4901" stop-color="#467df4"/><stop offset="0.5024" stop-color="#4778f0"/><stop offset="0.5148" stop-color="#4771e9"/><stop offset="0.5272" stop-color="#466be3"/><stop offset="0.5397" stop-color="#4666dd"/><stop offset="0.5522" stop-color="#4661d6"/><stop offset="0.5649" stop-color="#455ccf"/><stop offset="0.5776" stop-color="#4559cb"/><stop offset="0.5903" stop-color="#4454c3"/><stop offset="0.6031" stop-color="#434eba"/><stop offset="0.6160" stop-color="#424bb5"/><stop offset="0.6290" stop-color="#4249b1"/><stop offset="0.6420" stop-color="#4143a7"/><stop offset="0.6550" stop-color="#4040a2"/><stop offset="0.6682" stop-color="#3f3e9c"/><stop offset="0.6814" stop-color="#3f3b97"/><stop offset="0.6946" stop-color="#3d358b"/><stop offset="0.7079" stop-color="#3c3286"/><stop offset="0.7213" stop-color="#3b2f80"/><stop offset="0.7347" stop-color="#3a2d79"/><stop offset="0.7482" stop-color="#392a73"/><stop offset="0.7617" stop-color="#38276d"/><stop offset="0.7753" stop-color="#372466"/><stop offset="0.7890" stop-color="#372466"/><stop offset="0.8027" stop-color="#36215f"/><stop offset="0.8164" stop-color="#351e58"/><stop offset="0.8302" stop-color="#351e58"/><stop offset="0.8441" stop-color="#341b51"/><stop offset="0.8580" stop-color="#33184a"/><stop offset="0.8720" stop-color="#33184a"/><stop offset="0.8860" stop-color="#321543"/><stop offset="0.9001" stop-color="#321543"/><stop offset="0.9142" stop-color="#321543"/><stop offset="0.9284" stop-color="#30123b"/><stop offset="0.9426" stop-color="#30123b"/><stop offset="0.9569" stop-color="#30123b"/><stop offset="0.9712" stop-color="#30123b"/><stop offset="0.9856" stop-color="#30123b"/><stop offset="1.0000" stop-color="#30123b"/></radialGradient>
<linearGradient id="cge" x1="0" y1="0" x2="0" y2="1"><stop offset="0.0000" stop-color="#7a0403"/><stop offset="0.0250" stop-color="#8e0a01"/><stop offset="0.0500" stop-color="#a11201"/><stop offset="0.0750" stop-color="#b41b01"/><stop offset="0.1000" stop-color="#c32503"/><stop offset="0.1250" stop-color="#d02f05"/><stop offset="0.1500" stop-color="#dd3d08"/><stop offset="0.1750" stop-color="#e7490c"/><stop offset="0.2000" stop-color="#f05b12"/><stop offset="0.2250" stop-color="#f66c19"/><stop offset="0.2500" stop-color="#fb7e21"/><stop offset="0.2750" stop-color="#fe932a"/><stop offset="0.3000" stop-color="#fea431"/><stop offset="0.3250" stop-color="#fbb637"/><stop offset="0.3500" stop-color="#f6c33a"/><stop offset="0.3750" stop-color="#eecf3a"/><stop offset="0.4000" stop-color="#e1dd37"/><stop offset="0.4250" stop-color="#d4e735"/><stop offset="0.4500" stop-color="#c3f134"/><stop offset="0.4750" stop-color="#b4f836"/><stop offset="0.5000" stop-color="#a4fc3c"/><stop offset="0.5250" stop-color="#8fff49"/><stop offset="0.5500" stop-color="#79fe59"/><stop offset="0.5750" stop-color="#5dfc6f"/><stop offset="0.6000" stop-color="#46f884"/><stop offset="0.6250" stop-color="#32f298"/><stop offset="0.6500" stop-color="#20eaac"/><stop offset="0.6750" stop-color="#19e2bb"/><stop offset="0.7000" stop-color="#19d5cd"/><stop offset="0.7250" stop-color="#1fc9dd"/><stop offset="0.7500" stop-color="#28bceb"/><stop offset="0.7750" stop-color="#35abf8"/><stop offset="0.8000" stop-color="#3e9bfe"/><stop offset="0.8250" stop-color="#458afc"/><stop offset="0.8500" stop-color="#477bf2"/><stop offset="0.8750" stop-color="#466be3"/><stop offset="0.9000" stop-color="#4559cb"/><stop offset="0.9250" stop-color="#4249b1"/><stop offset="0.9500" stop-color="#3d358b"/><stop offset="0.9750" stop-color="#372466"/><stop offset="1.0000" stop-color="#30123b"/></linearGradient>
<clipPath id="cpe"><rect x="41.20" y="28.50" width="92.70" height="185.00"/></clipPath></defs>
<rect x="41.20" y="28.50" width="92.70" height="185.00" fill="url(#rge)"/>
<defs><mask id="mke" maskUnits="userSpaceOnUse" x="0" y="0" width="220" height="270"><rect x="0" y="0" width="220" height="270" fill="#fff"/><rect x="-9.90" y="-4" width="19.80" height="8" fill="#000" transform="translate(113.10,115.10) rotate(90)"/><rect x="-4.30" y="-4" width="8.60" height="8" fill="#000" transform="translate(97.10,115.70) rotate(90)"/><rect x="-9.90" y="-4" width="19.80" height="8" fill="#000" transform="translate(85.40,117.70) rotate(90)"/><rect x="-4.30" y="-4" width="8.60" height="8" fill="#000" transform="translate(77.70,117.90) rotate(90)"/><rect x="-9.90" y="-4" width="19.80" height="8" fill="#000" transform="translate(71.70,118.90) rotate(90)"/><rect x="-4.30" y="-4" width="8.60" height="8" fill="#000" transform="translate(67.20,116.90) rotate(90)"/><rect x="-9.90" y="-4" width="19.80" height="8" fill="#000" transform="translate(63.20,119.90) rotate(90)"/></mask></defs>
<g clip-path="url(#cpe)" fill="none"><g mask="url(#mke)">
<circle cx="41.20" cy="121.00" r="75.00" class="ct"/>
<circle cx="41.20" cy="121.00" r="56.00" class="ct"/>
<circle cx="41.20" cy="121.00" r="45.00" class="ct"/>
<circle cx="41.20" cy="121.00" r="37.00" class="ct"/>
<circle cx="41.20" cy="121.00" r="31.00" class="ct"/>
<circle cx="41.20" cy="121.00" r="25.00" class="ct"/>
<circle cx="41.20" cy="121.00" r="18.00" class="ct"/>
<path d="M53.88,49.11 A73.00,73.00 0 0 1 53.88,192.89" class="cr"/>
<path d="M46.41,91.46 A30.00,30.00 0 0 1 46.41,150.54" class="cr"/>
</g></g>
<rect x="41.20" y="28.50" width="92.70" height="185.00" fill="none" stroke="#262626" stroke-width="0.6"/>
<text x="38.00" y="32.50" class="tk" text-anchor="end">6000</text>
<text x="38.00" y="63.33" class="tk" text-anchor="end">4000</text>
<text x="38.00" y="94.17" class="tk" text-anchor="end">2000</text>
<text x="38.00" y="125.00" class="tk" text-anchor="end">0</text>
<text x="38.00" y="155.83" class="tk" text-anchor="end">-2000</text>
<text x="38.00" y="186.67" class="tk" text-anchor="end">-4000</text>
<text x="38.00" y="217.50" class="tk" text-anchor="end">-6000</text>
<text transform="translate(49.20,223.90) rotate(-45)" class="tk" text-anchor="end">0</text>
<text transform="translate(80.10,223.90) rotate(-45)" class="tk" text-anchor="end">2000</text>
<text transform="translate(111.00,223.90) rotate(-45)" class="tk" text-anchor="end">4000</text>
<text transform="translate(141.90,223.90) rotate(-45)" class="tk" text-anchor="end">6000</text>
<text x="87.55" y="254.9" class="lb" text-anchor="middle">X axis (m)</text>
<text transform="translate(5.40,121.00) rotate(-90)" class="lb" text-anchor="middle">Y axis (m)</text>
<rect x="150.70" y="28.80" width="9.30" height="184.60" fill="url(#cge)" stroke="#3a3a3a" stroke-width="0.5"/>
<line x1="158.20" x2="160.00" y1="190.98" y2="190.98" stroke="#262626" stroke-width="0.7"/>
<text x="166.00" y="195.18" class="tk">0.5</text>
<line x1="158.20" x2="160.00" y1="166.86" y2="166.86" stroke="#262626" stroke-width="0.7"/>
<text x="166.00" y="171.06" class="tk">1</text>
<line x1="158.20" x2="160.00" y1="142.75" y2="142.75" stroke="#262626" stroke-width="0.7"/>
<text x="166.00" y="146.95" class="tk">1.5</text>
<line x1="158.20" x2="160.00" y1="118.64" y2="118.64" stroke="#262626" stroke-width="0.7"/>
<text x="166.00" y="122.84" class="tk">2</text>
<line x1="158.20" x2="160.00" y1="94.53" y2="94.53" stroke="#262626" stroke-width="0.7"/>
<text x="166.00" y="98.73" class="tk">2.5</text>
<line x1="158.20" x2="160.00" y1="70.42" y2="70.42" stroke="#262626" stroke-width="0.7"/>
<text x="166.00" y="74.62" class="tk">3</text>
<line x1="158.20" x2="160.00" y1="46.31" y2="46.31" stroke="#262626" stroke-width="0.7"/>
<text x="166.00" y="50.51" class="tk">3.5</text>
<g transform="translate(-204.30,-267.10)">
<text transform="translate(317.40,382.20) rotate(90)" class="cl" text-anchor="middle" dy="3.9">0.5</text>
<text transform="translate(301.40,382.80) rotate(90)" class="cl" text-anchor="middle" dy="3.9">1</text>
<text transform="translate(289.70,384.80) rotate(90)" class="cl" text-anchor="middle" dy="3.9">1.5</text>
<text transform="translate(282.00,385.00) rotate(90)" class="cl" text-anchor="middle" dy="3.9">2</text>
<text transform="translate(276.00,386.00) rotate(90)" class="cl" text-anchor="middle" dy="3.9">2.5</text>
<text transform="translate(271.50,384.00) rotate(90)" class="cl" text-anchor="middle" dy="3.9">3</text>
<text transform="translate(267.50,387.00) rotate(90)" class="cl" text-anchor="middle" dy="3.9">3.5</text>
<line x1="253.00" y1="362.60" x2="248.07" y2="380.40" class="ar"/><polygon points="246.60,385.70 245.31,379.12 251.09,380.72" fill="#fff"/>
<line x1="294.60" y1="362.60" x2="277.96" y2="372.24" class="ar"/><polygon points="273.20,375.00 276.89,369.40 279.90,374.59" fill="#fff"/>
<line x1="311.30" y1="453.40" x2="305.90" y2="442.25" class="ar"/><polygon points="303.50,437.30 308.82,441.39 303.42,444.01" fill="#fff"/>
<text x="225.80" y="506.85" class="pl">(e)</text>
<text x="251.90" y="358.50" class="rl">R<tspan class="rs" dy="2.8">c</tspan></text>
<text x="295.70" y="362.00" class="rl">R<tspan class="rs" dy="2.8">m</tspan></text>
<text x="308.80" y="465.50" class="rl">R<tspan class="rs" dy="2.8">p</tspan></text>
</g>
</g>
<g transform="translate(408.60,267.10)">
<text x="87.55" y="11.8" class="tt" text-anchor="middle">Log Seismicity Rate</text>
<text x="87.55" y="26.2" class="tt" text-anchor="middle">at t = 20a (uncoupled)</text>
<defs><radialGradient id="rgf" gradientUnits="userSpaceOnUse" cx="41.20" cy="121.00" r="140.00"><stop offset="0.0000" stop-color="#7a0403"/><stop offset="0.0029" stop-color="#7a0403"/><stop offset="0.0071" stop-color="#7a0403"/><stop offset="0.0120" stop-color="#7a0403"/><stop offset="0.0175" stop-color="#7a0403"/><stop offset="0.0233" stop-color="#7a0403"/><stop offset="0.0296" stop-color="#7a0403"/><stop offset="0.0362" stop-color="#7a0403"/><stop offset="0.0430" stop-color="#7a0403"/><stop offset="0.0501" stop-color="#7a0403"/><stop offset="0.0575" stop-color="#7a0403"/><stop offset="0.0651" stop-color="#7a0403"/><stop offset="0.0728" stop-color="#7e0502"/><stop offset="0.0808" stop-color="#7e0502"/><stop offset="0.0890" stop-color="#7e0502"/><stop offset="0.0974" stop-color="#810602"/><stop offset="0.1059" stop-color="#810602"/><stop offset="0.1146" stop-color="#850702"/><stop offset="0.1234" stop-color="#880802"/><stop offset="0.1324" stop-color="#880802"/><stop offset="0.1415" stop-color="#8b0902"/><stop offset="0.1508" stop-color="#920b01"/><stop offset="0.1602" stop-color="#950d01"/><stop offset="0.1697" stop-color="#9b0f01"/><stop offset="0.1794" stop-color="#a41301"/><stop offset="0.1892" stop-color="#ac1701"/><stop offset="0.1990" stop-color="#b71d02"/><stop offset="0.2091" stop-color="#c32503"/><stop offset="0.2192" stop-color="#ce2d04"/><stop offset="0.2294" stop-color="#d83706"/><stop offset="0.2397" stop-color="#e2430a"/><stop offset="0.2502" stop-color="#eb500e"/><stop offset="0.2607" stop-color="#f26014"/><stop offset="0.2714" stop-color="#f8721c"/><stop offset="0.2821" stop-color="#fc8423"/><stop offset="0.2929" stop-color="#fe992c"/><stop offset="0.3039" stop-color="#fdac34"/><stop offset="0.3149" stop-color="#f9bc39"/><stop offset="0.3260" stop-color="#efcd3a"/><stop offset="0.3372" stop-color="#e1dd37"/><stop offset="0.3485" stop-color="#d0ea34"/><stop offset="0.3598" stop-color="#bef434"/><stop offset="0.3713" stop-color="#affa37"/><stop offset="0.3828" stop-color="#9ffd3f"/><stop offset="0.3944" stop-color="#8bff4b"/><stop offset="0.4061" stop-color="#75fe5c"/><stop offset="0.4179" stop-color="#61fc6c"/><stop offset="0.4297" stop-color="#4ef97d"/><stop offset="0.4417" stop-color="#3cf58e"/><stop offset="0.4537" stop-color="#2ff19b"/><stop offset="0.4657" stop-color="#22ebaa"/><stop offset="0.4779" stop-color="#1ce6b4"/><stop offset="0.4901" stop-color="#18e0bd"/><stop offset="0.5024" stop-color="#18d9c8"/><stop offset="0.5148" stop-color="#1ad4d0"/><stop offset="0.5272" stop-color="#1ecbda"/><stop offset="0.5397" stop-color="#23c3e4"/><stop offset="0.5522" stop-color="#28bceb"/><stop offset="0.5649" stop-color="#2eb4f2"/><stop offset="0.5776" stop-color="#35abf8"/><stop offset="0.5903" stop-color="#3aa3fc"/><stop offset="0.6031" stop-color="#3e9bfe"/><stop offset="0.6160" stop-color="#4391fe"/><stop offset="0.6290" stop-color="#458afc"/><stop offset="0.6420" stop-color="#4682f8"/><stop offset="0.6550" stop-color="#4778f0"/><stop offset="0.6682" stop-color="#4771e9"/><stop offset="0.6814" stop-color="#4669e0"/><stop offset="0.6946" stop-color="#4664da"/><stop offset="0.7079" stop-color="#455ccf"/><stop offset="0.7213" stop-color="#4456c7"/><stop offset="0.7347" stop-color="#4451bf"/><stop offset="0.7482" stop-color="#424bb5"/><stop offset="0.7617" stop-color="#4146ac"/><stop offset="0.7753" stop-color="#4143a7"/><stop offset="0.7890" stop-color="#3f3e9c"/><stop offset="0.8027" stop-color="#3f3b97"/><stop offset="0.8164" stop-color="#3d358b"/><stop offset="0.8302" stop-color="#3c3286"/><stop offset="0.8441" stop-color="#3b2f80"/><stop offset="0.8580" stop-color="#3a2d79"/><stop offset="0.8720" stop-color="#392a73"/><stop offset="0.8860" stop-color="#372466"/><stop offset="0.9001" stop-color="#36215f"/><stop offset="0.9142" stop-color="#351e58"/><stop offset="0.9284" stop-color="#341b51"/><stop offset="0.9426" stop-color="#33184a"/><stop offset="0.9569" stop-color="#33184a"/><stop offset="0.9712" stop-color="#321543"/><stop offset="0.9856" stop-color="#30123b"/><stop offset="1.0000" stop-color="#30123b"/></radialGradient>
<linearGradient id="cgf" x1="0" y1="0" x2="0" y2="1"><stop offset="0.0000" stop-color="#7a0403"/><stop offset="0.0250" stop-color="#8e0a01"/><stop offset="0.0500" stop-color="#a11201"/><stop offset="0.0750" stop-color="#b41b01"/><stop offset="0.1000" stop-color="#c32503"/><stop offset="0.1250" stop-color="#d02f05"/><stop offset="0.1500" stop-color="#dd3d08"/><stop offset="0.1750" stop-color="#e7490c"/><stop offset="0.2000" stop-color="#f05b12"/><stop offset="0.2250" stop-color="#f66c19"/><stop offset="0.2500" stop-color="#fb7e21"/><stop offset="0.2750" stop-color="#fe932a"/><stop offset="0.3000" stop-color="#fea431"/><stop offset="0.3250" stop-color="#fbb637"/><stop offset="0.3500" stop-color="#f6c33a"/><stop offset="0.3750" stop-color="#eecf3a"/><stop offset="0.4000" stop-color="#e1dd37"/><stop offset="0.4250" stop-color="#d4e735"/><stop offset="0.4500" stop-color="#c3f134"/><stop offset="0.4750" stop-color="#b4f836"/><stop offset="0.5000" stop-color="#a4fc3c"/><stop offset="0.5250" stop-color="#8fff49"/><stop offset="0.5500" stop-color="#79fe59"/><stop offset="0.5750" stop-color="#5dfc6f"/><stop offset="0.6000" stop-color="#46f884"/><stop offset="0.6250" stop-color="#32f298"/><stop offset="0.6500" stop-color="#20eaac"/><stop offset="0.6750" stop-color="#19e2bb"/><stop offset="0.7000" stop-color="#19d5cd"/><stop offset="0.7250" stop-color="#1fc9dd"/><stop offset="0.7500" stop-color="#28bceb"/><stop offset="0.7750" stop-color="#35abf8"/><stop offset="0.8000" stop-color="#3e9bfe"/><stop offset="0.8250" stop-color="#458afc"/><stop offset="0.8500" stop-color="#477bf2"/><stop offset="0.8750" stop-color="#466be3"/><stop offset="0.9000" stop-color="#4559cb"/><stop offset="0.9250" stop-color="#4249b1"/><stop offset="0.9500" stop-color="#3d358b"/><stop offset="0.9750" stop-color="#372466"/><stop offset="1.0000" stop-color="#30123b"/></linearGradient>
<clipPath id="cpf"><rect x="41.20" y="28.50" width="92.70" height="185.00"/></clipPath></defs>
<rect x="41.20" y="28.50" width="92.70" height="185.00" fill="url(#rgf)"/>
<defs><mask id="mkf" maskUnits="userSpaceOnUse" x="0" y="0" width="220" height="270"><rect x="0" y="0" width="220" height="270" fill="#fff"/><rect x="-9.90" y="-4" width="19.80" height="8" fill="#000" transform="translate(103.90,116.90) rotate(90)"/><rect x="-4.30" y="-4" width="8.60" height="8" fill="#000" transform="translate(93.70,116.20) rotate(90)"/><rect x="-9.90" y="-4" width="19.80" height="8" fill="#000" transform="translate(84.00,117.70) rotate(90)"/><rect x="-4.30" y="-4" width="8.60" height="8" fill="#000" transform="translate(74.40,117.90) rotate(90)"/><rect x="-4.30" y="-4" width="8.60" height="8" fill="#000" transform="translate(60.40,44.40) rotate(14)"/><rect x="-4.30" y="-4" width="8.60" height="8" fill="#000" transform="translate(61.40,197.60) rotate(-14)"/><rect x="-9.90" y="-4" width="19.80" height="8" fill="#000" transform="translate(114.70,47.40) rotate(48)"/><rect x="-9.90" y="-4" width="19.80" height="8" fill="#000" transform="translate(114.70,194.10) rotate(-45)"/></mask></defs>
<g clip-path="url(#cpf)" fill="none"><g mask="url(#mkf)">
<circle cx="41.20" cy="121.00" r="104.00" class="ct"/>
<circle cx="41.20" cy="121.00" r="79.00" class="ct"/>
<circle cx="41.20" cy="121.00" r="62.50" class="ct"/>
<circle cx="41.20" cy="121.00" r="51.00" class="ct"/>
<circle cx="41.20" cy="121.00" r="43.00" class="ct"/>
<circle cx="41.20" cy="121.00" r="34.00" class="ct"/>
<circle cx="41.20" cy="121.00" r="9.00" class="ct"/>
<path d="M59.35,18.09 A104.50,104.50 0 0 1 59.35,223.91" class="cr"/>
<path d="M48.41,80.13 A41.50,41.50 0 0 1 48.41,161.87" class="cr"/>
</g></g>
<rect x="41.20" y="28.50" width="92.70" height="185.00" fill="none" stroke="#262626" stroke-width="0.6"/>
<text x="38.00" y="32.50" class="tk" text-anchor="end">6000</text>
<text x="38.00" y="63.33" class="tk" text-anchor="end">4000</text>
<text x="38.00" y="94.17" class="tk" text-anchor="end">2000</text>
<text x="38.00" y="125.00" class="tk" text-anchor="end">0</text>
<text x="38.00" y="155.83" class="tk" text-anchor="end">-2000</text>
<text x="38.00" y="186.67" class="tk" text-anchor="end">-4000</text>
<text x="38.00" y="217.50" class="tk" text-anchor="end">-6000</text>
<text transform="translate(49.20,223.90) rotate(-45)" class="tk" text-anchor="end">0</text>
<text transform="translate(80.10,223.90) rotate(-45)" class="tk" text-anchor="end">2000</text>
<text transform="translate(111.00,223.90) rotate(-45)" class="tk" text-anchor="end">4000</text>
<text transform="translate(141.90,223.90) rotate(-45)" class="tk" text-anchor="end">6000</text>
<text x="87.55" y="254.9" class="lb" text-anchor="middle">X axis (m)</text>
<text transform="translate(5.40,121.00) rotate(-90)" class="lb" text-anchor="middle">Y axis (m)</text>
<rect x="150.60" y="28.80" width="9.80" height="184.60" fill="url(#cgf)" stroke="#3a3a3a" stroke-width="0.5"/>
<line x1="158.60" x2="160.40" y1="198.28" y2="198.28" stroke="#262626" stroke-width="0.7"/>
<text x="166.00" y="202.48" class="tk">0.5</text>
<line x1="158.60" x2="160.40" y1="170.59" y2="170.59" stroke="#262626" stroke-width="0.7"/>
<text x="166.00" y="174.79" class="tk">1</text>
<line x1="158.60" x2="160.40" y1="142.89" y2="142.89" stroke="#262626" stroke-width="0.7"/>
<text x="166.00" y="147.09" class="tk">1.5</text>
<line x1="158.60" x2="160.40" y1="115.20" y2="115.20" stroke="#262626" stroke-width="0.7"/>
<text x="166.00" y="119.40" class="tk">2</text>
<line x1="158.60" x2="160.40" y1="87.51" y2="87.51" stroke="#262626" stroke-width="0.7"/>
<text x="166.00" y="91.71" class="tk">2.5</text>
<line x1="158.60" x2="160.40" y1="59.82" y2="59.82" stroke="#262626" stroke-width="0.7"/>
<text x="166.00" y="64.02" class="tk">3</text>
<line x1="158.60" x2="160.40" y1="32.12" y2="32.12" stroke="#262626" stroke-width="0.7"/>
<text x="166.00" y="36.32" class="tk">3.5</text>
<g transform="translate(-408.60,-267.10)">
<text transform="translate(512.50,384.00) rotate(90)" class="cl" text-anchor="middle" dy="3.9">1.5</text>
<text transform="translate(502.30,383.30) rotate(90)" class="cl" text-anchor="middle" dy="3.9">2</text>
<text transform="translate(492.60,384.80) rotate(90)" class="cl" text-anchor="middle" dy="3.9">2.5</text>
<text transform="translate(483.00,385.00) rotate(90)" class="cl" text-anchor="middle" dy="3.9">3</text>
<text transform="translate(469.00,311.50) rotate(14)" class="cl" text-anchor="middle" dy="3.9">1</text>
<text transform="translate(470.00,464.70) rotate(-14)" class="cl" text-anchor="middle" dy="3.9">1</text>
<text transform="translate(523.30,314.50) rotate(48)" class="cl" text-anchor="middle" dy="3.9">0.5</text>
<text transform="translate(523.30,461.20) rotate(-45)" class="cl" text-anchor="middle" dy="3.9">0.5</text>
<line x1="457.70" y1="364.20" x2="453.76" y2="378.50" class="ar"/><polygon points="452.30,383.80 451.00,377.22 456.79,378.81" fill="#fff"/>
<line x1="490.30" y1="355.40" x2="487.40" y2="359.66" class="ar"/><polygon points="484.30,364.20 485.20,357.55 490.16,360.93" fill="#fff"/>
<line x1="532.20" y1="435.30" x2="533.31" y2="444.04" class="ar"/><polygon points="534.00,449.50 530.27,443.92 536.22,443.17" fill="#fff"/>
<text x="429.80" y="506.60" class="pl">(f)</text>
<text x="454.80" y="361.50" class="rl">R<tspan class="rs" dy="2.8">c</tspan></text>
<text x="485.40" y="353.00" class="rl">R<tspan class="rs" dy="2.8">m</tspan></text>
<text x="525.80" y="431.50" class="rl">R<tspan class="rs" dy="2.8">p</tspan></text>
</g>
</g>
</svg></body></html>
